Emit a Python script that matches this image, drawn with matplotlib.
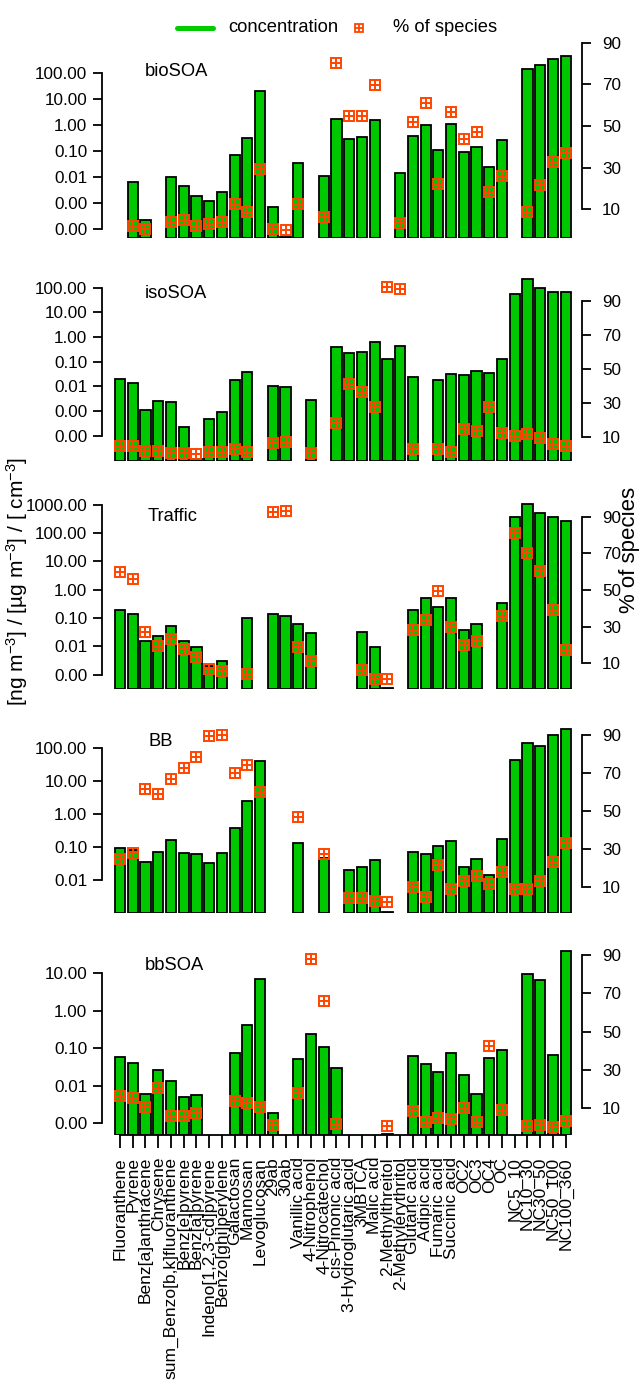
import numpy as np
import matplotlib
matplotlib.use("Agg")
import matplotlib.pyplot as plt
from matplotlib.lines import Line2D
from matplotlib.ticker import NullLocator

plt.rcParams['font.family'] = ['Liberation Sans', 'DejaVu Sans']
plt.rcParams['mathtext.fontset'] = 'custom'
plt.rcParams['mathtext.rm'] = 'Liberation Sans'
plt.rcParams['mathtext.it'] = 'Liberation Sans:italic'

nan = np.nan

species = ["Fluoranthene", "Pyrene", "Benz[a]anthracene", "Chrysene",
           "sum_Benzo[b,k]fluoranthene", "Benz[e]pyrene", "Benz[a]pyrene",
           "Indeno[1,2,3-cd]pyrene", "Benzo[ghi]perylene", "Galactosan",
           "Mannosan", "Levoglucosan", "29ab", "30ab", "Vanillic acid",
           "4-Nitrophenol", "4-Nitrocatechol", "cis-Pinonic acid",
           "3-Hydroglutaric acid", "3MBTCA", "Malic acid", "2-Methylthreitol",
           "2-Methylerythritol", "Glutaric acid", "Adipic acid", "Fumaric acid",
           "Succinic acid", "OC2", "OC3", "OC4", "OC", "NC5_10", "NC10_30",
           "NC30_50", "NC50_100", "NC100_360"]

# concentrations (log axis) and % of species, one value per species, nan = not shown
conc_bioSOA = [nan, 0.0063, 0.00021, nan, 0.0098, 0.0044, 0.0019, 0.00115, 0.0027, 0.068,
               0.30, 20, 0.0007, 5e-5, 0.035, nan, 0.011, 1.6, 0.29, 0.34,
               1.5, nan, 0.0135, 0.38, 0.95, 0.11, 1.05, 0.087, 0.14, 0.023,
               0.26, nan, 140, 192, 335, 450]
pct_bioSOA = [nan, 2.1, 0.4, nan, 3.7, 4.8, 2.1, 3.1, 3.7, 12.5,
              8.7, 29.2, 0.5, 0.0, 12.5, nan, 6.3, 80.4, 54.9, 54.9,
              69.8, nan, 3.3, 51.7, 60.9, 22.0, 56.7, 43.7, 47.0, 18.1,
              26.1, nan, 8.7, 21.6, 32.5, 36.9]

conc_isoSOA = [0.020, 0.014, 0.0011, 0.0026, 0.0023, 0.00022, 1.1e-5, 0.00048, 0.00093, 0.018,
               0.037, nan, 0.010, 0.0093, nan, 0.0027, nan, 0.40, 0.22, 0.24,
               0.65, 0.126, 0.42, 0.024, nan, 0.019, 0.032, 0.030, 0.044, 0.035,
               0.13, 56, 220, 95, 69, 66]
pct_isoSOA = [5.1, 5.1, 2.0, 2.0, 1.0, 0.6, 0.0, 1.6, 1.6, 3.4,
              1.2, nan, 6.5, 7.3, nan, 1.0, nan, 18.4, 41.2, 36.5,
              28.0, 98.2, 97.0, 3.0, nan, 3.4, 1.6, 14.7, 13.9, 27.6,
              12.7, 10.8, 11.9, 9.6, 5.9, 5.1]

conc_traffic = [0.19, 0.139, 0.015, 0.024, 0.054, 0.015, 0.0095, 0.0021, 0.0031, nan,
                0.10, nan, 0.142, 0.118, 0.063, 0.030, nan, nan, nan, 0.031,
                0.0093, 3.5e-4, nan, 0.195, 0.50, 0.25, 0.51, 0.038, 0.062, nan,
                0.35, 380, 1100, 490, 380, 260]
pct_traffic = [59.6, 55.8, 26.9, 19.4, 23.2, 17.6, 13.3, 6.7, 5.8, nan,
               4.1, nan, 92.7, 93.3, 18.7, 11.4, nan, nan, nan, 6.2,
               1.6, 1.2, nan, 28.2, 33.6, 49.6, 30.0, 19.8, 22.2, nan,
               36.0, 80.9, 70.3, 60.5, 39.1, 17.2]

conc_BB = [0.091, 0.078, 0.034, 0.071, 0.158, 0.066, 0.061, 0.032, 0.064, 0.38,
           2.4, 40, nan, nan, 0.128, nan, 0.045, nan, 0.020, 0.024,
           0.040, 1.05e-3, nan, 0.069, 0.060, 0.109, 0.156, 0.024, 0.043, 0.014,
           0.174, 43, 138, 115, 250, 380]
pct_BB = [24.7, 27.9, 61.3, 59.0, 66.7, 72.3, 78.1, 89.2, 90.0, 70.0,
          73.9, 60.0, nan, nan, 46.7, nan, 27.2, nan, 4.2, 4.2,
          2.5, 1.8, nan, 9.7, 4.4, 21.4, 8.8, 12.8, 15.6, 11.4,
          17.9, 8.9, 8.9, 13.0, 22.8, 32.8]

conc_bbSOA = [0.059, 0.040, 0.0059, 0.026, 0.013, 0.005, 0.0056, nan, nan, 0.074,
              0.41, 7.2, 0.0019, nan, 0.050, 0.244, 0.11, 0.029, nan, nan,
              nan, 5.2e-4, nan, 0.062, 0.038, 0.023, 0.074, 0.019, 0.006, 0.053,
              0.087, nan, 9.5, 6.7, 0.066, 38]
pct_bbSOA = [16.3, 15.1, 10.4, 20.3, 6.0, 6.0, 7.4, nan, nan, 13.8,
             12.6, 10.7, 1.1, nan, 18.0, 88.0, 66.2, 1.5, nan, nan,
             nan, 0.6, nan, 8.4, 2.5, 4.6, 4.1, 10.2, 2.5, 42.6,
             9.0, nan, 0.7, 1.1, 0.2, 3.2]

W, H = 640, 1386
green = '#00C800'
orange = '#FF4500'

# name, conc, pct, top px, bottom px, log10 ylim, tick decades, title position px
panels = [
    ("bioSOA", conc_bioSOA, pct_bioSOA, 13.6, 238.4, (-4.37, 4.27), (-4, 2), (145, 71)),
    ("isoSOA", conc_isoSOA, pct_isoSOA, 276.8, 461.2, (-5.03, 2.44), (-4, 2), (145, 293)),
    ("Traffic", conc_traffic, pct_traffic, 491.1, 688.9, (-3.50, 3.48), (-3, 3), (148, 516)),
    ("BB", conc_BB, pct_BB, 708.1, 913.3, (-3.01, 3.20), (-2, 2), (148, 741)),
    ("bbSOA", conc_bbSOA, pct_bbSOA, 928.6, 1134.7, (-3.31, 2.19), (-3, 1), (145, 965)),
]

fig = plt.figure(figsize=(W / 100, H / 100), dpi=100)

xs = np.arange(1, len(species) + 1)
x_left, x_right = 102, 582
xlim = (1 + (x_left - 120) / 12.73, 36 + (x_right - 565.7) / 12.73)

for k, (name, conc, pct, top, bot, ylog, tdec, tpos) in enumerate(panels):
    ax = fig.add_axes([x_left / W, 1 - bot / H, (x_right - x_left) / W, (bot - top) / H])
    ax.set_yscale('log')
    lo, hi = 10 ** ylog[0], 10 ** ylog[1]
    ax.set_ylim(lo, hi)
    ax.set_xlim(*xlim)
    conc = np.array(conc, dtype=float)
    m = ~np.isnan(conc)
    ax.bar(xs[m], conc[m] - lo, bottom=lo, width=0.8, color=green,
           edgecolor='black', linewidth=1.3, zorder=2)

    for s in ['top', 'right']:
        ax.spines[s].set_visible(False)
    ax.spines['left'].set_bounds(10 ** tdec[0], 10 ** tdec[1])
    ax.spines['left'].set_linewidth(1.3)
    yt = [10.0 ** d for d in range(tdec[0], tdec[1] + 1)]
    ax.set_yticks(yt)
    ax.set_yticklabels([f"{v:.2f}" for v in yt])
    ax.yaxis.set_minor_locator(NullLocator())
    ax.tick_params(axis='y', direction='out', length=6.5, width=1.3, pad=4, labelsize=12.3)

    if k == len(panels) - 1:
        ax.spines['bottom'].set_bounds(1, 36)
        ax.spines['bottom'].set_linewidth(1.3)
        ax.set_xticks(xs)
        ax.set_xticklabels(species, rotation=90, fontsize=12.5)
        ax.tick_params(axis='x', direction='out', length=9, width=1.3, pad=7)
    else:
        ax.spines['bottom'].set_visible(False)
        ax.set_xticks([])

    ax2 = ax.twinx()
    ax2.set_ylim(-4, 104)
    ax2.set_xlim(*xlim)
    for s in ['top', 'left', 'bottom']:
        ax2.spines[s].set_visible(False)
    ax2.spines['right'].set_bounds(10, 90)
    ax2.spines['right'].set_linewidth(1.3)
    ax2.set_yticks([10, 30, 50, 70, 90])
    ax2.tick_params(axis='y', direction='out', length=6.5, width=1.3, pad=8, labelsize=12.3)
    pct = np.array(pct, dtype=float)
    mp = ~np.isnan(pct)
    ax2.plot(xs[mp], pct[mp], ls='none', marker='s', ms=6.5, mfc='none',
             mec=orange, mew=1.4, zorder=3)
    ax2.plot(xs[mp], pct[mp], ls='none', marker='+', ms=6.5,
             mec=orange, mew=1.4, zorder=3)

    fig.text(tpos[0] / W, 1 - tpos[1] / H, name, fontsize=13.2, va='center', ha='left')

# legend on top
ly = 1 - 28 / H
fig.add_artist(Line2D([177 / W, 213 / W], [ly, ly], color='#00CC00', lw=3.6,
                      solid_capstyle='round'))
fig.text(228 / W, ly, "concentration", fontsize=13.2, va='center', ha='left')
fig.add_artist(Line2D([359 / W], [ly], ls='none', marker='s', ms=6, mfc='none',
                      mec=orange, mew=1.3))
fig.add_artist(Line2D([359 / W], [ly], ls='none', marker='+', ms=6,
                      mec=orange, mew=1.3))
fig.text(393 / W, ly, "% of species", fontsize=13.2, va='center', ha='left')

# axis titles
fig.text(17 / W, 1 - 581 / H, r"[ng m$^{-3}$] / [µg m$^{-3}$] / [ cm$^{-3}$]",
         rotation=90, fontsize=15, va='center', ha='center')
fig.text(629 / W, 1 - 550 / H, "% of species", rotation=90, fontsize=16,
         va='center', ha='center')

fig.savefig("out.png", dpi=100)
